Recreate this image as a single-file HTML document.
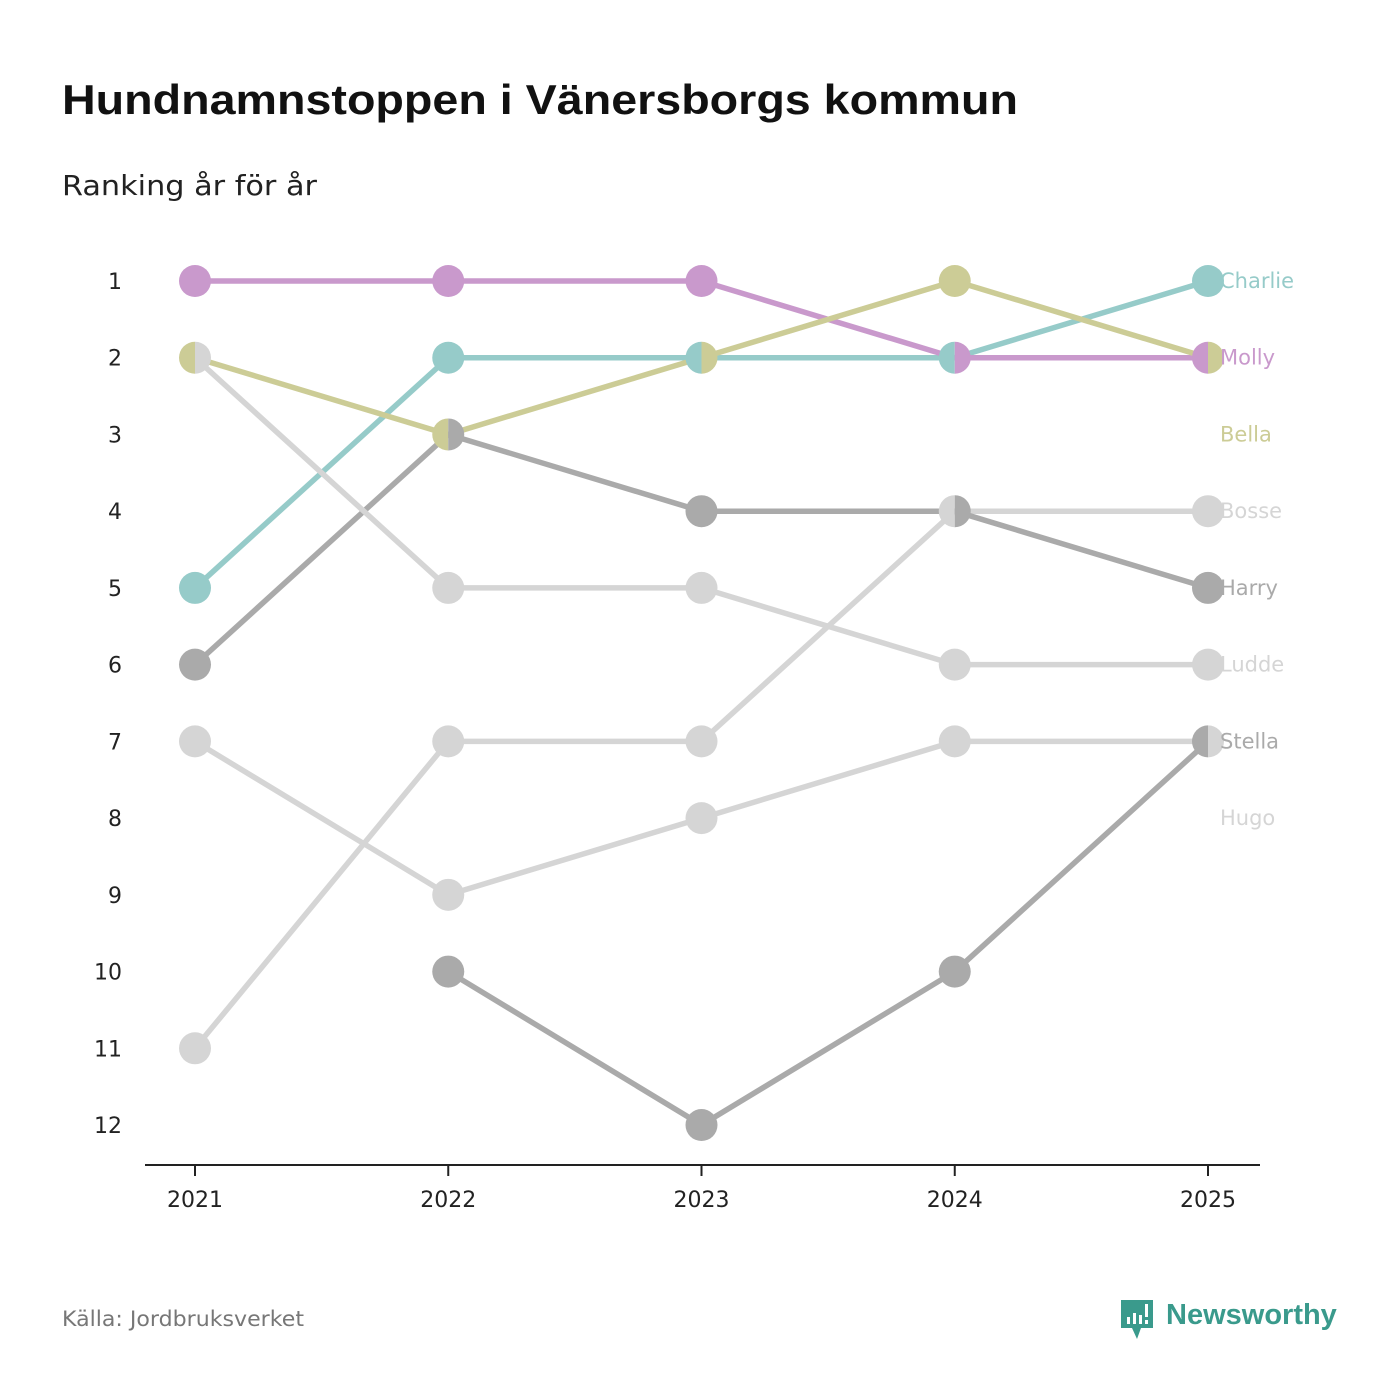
<!DOCTYPE html>
<html><head><meta charset="utf-8">
<style>
body{margin:0;background:#fff;font-family:"Liberation Sans","DejaVu Sans",sans-serif;}
#wrap{position:relative;width:1400px;height:1400px;overflow:hidden;}
</style></head>
<body>
<div id="wrap">
<svg id="svg" width="1400" height="1400" xmlns="http://www.w3.org/2000/svg">
<text x="62" y="114" font-size="42" font-weight="bold" fill="#111" font-family="Liberation Sans, sans-serif" textLength="956" lengthAdjust="spacingAndGlyphs">Hundnamnstoppen i Vänersborgs kommun</text>
<text x="62" y="195" font-size="28" fill="#222" font-family="DejaVu Sans, sans-serif" textLength="255" lengthAdjust="spacingAndGlyphs">Ranking år för år</text>
<text x="62" y="1326" font-size="21" fill="#777" font-family="DejaVu Sans, sans-serif" textLength="242" lengthAdjust="spacingAndGlyphs">Källa: Jordbruksverket</text>
<g>
<path d="M1121 1300 h32 v28 h-12 l-4 11 l-5 -11 h-11 z" fill="#3a9a8c"/>
<rect x="1127" y="1317" width="3" height="7" fill="#fff"/><rect x="1133" y="1313" width="3" height="11" fill="#fff"/><rect x="1139" y="1315" width="3" height="9" fill="#fff"/><rect x="1145" y="1304" width="3" height="13" fill="#fff"/><rect x="1145" y="1320" width="3" height="4" fill="#fff"/>
<text x="1166" y="1324" font-size="29" font-weight="bold" fill="#3a9a8c" font-family="Liberation Sans, sans-serif">Newsworthy</text>
</g>
<g id="axes"></g>
<g id="lines"></g>
<g id="dots"></g>
<g id="labels"></g>
</svg>
</div>
<script>
const years = [2021, 2022, 2023, 2024, 2025];
const rankTicks = [1,2,3,4,5,6,7,8,9,10,11,12];
const names = ["Charlie","Molly","Bella","Bosse","Harry","Ludde","Stella","Hugo"];
const colors = ["#96cbc9","#c999cc","#cccc96","#d5d5d5","#aaaaaa","#d5d5d5","#aaaaaa","#d5d5d5"];
const rankCharlie = [5,2,2,2,1];
const rankMolly = [1,1,1,2,2];
const rankBella = [2,3,2,1,2];
const rankBosse = [11,7,7,4,4];
const rankHarry = [6,3,4,4,5];
const rankLudde = [2,5,5,6,6];
const rankStella = [null,10,12,10,7];
const rankHugo = [7,9,8,7,7];
const series = [rankCharlie,rankMolly,rankBella,rankBosse,rankHarry,rankLudde,rankStella,rankHugo];

const NS="http://www.w3.org/2000/svg";
const x = i => 195 + i*253.25;
const y = r => 281 + (r-1)*76.73;
function mk(tag, attrs, parent){const e=document.createElementNS(NS,tag);for(const k in attrs)e.setAttribute(k,attrs[k]);parent.appendChild(e);return e;}
const axes=document.getElementById('axes'),lines=document.getElementById('lines'),dots=document.getElementById('dots'),labels=document.getElementById('labels');

let ax=mk('line',{x1:145,x2:1260,y1:1165,y2:1165,stroke:'#222','stroke-width':2},axes);


years.forEach((yr,i)=>{
  let t=mk('line',{x1:x(i),x2:x(i),y1:1165,y2:1176,stroke:'#222','stroke-width':2},axes);
  
  
  let l=mk('text',{x:x(i),y:1207,'text-anchor':'middle','font-size':22,fill:'#222','font-family':'DejaVu Sans, sans-serif'},axes);
  l.textContent=yr;
  
  
});
rankTicks.forEach(r=>{
  let l=mk('text',{x:122,y:y(r)+8,'text-anchor':'end','font-size':22,fill:'#222','font-family':'DejaVu Sans, sans-serif'},axes);
  l.textContent=r;
  
  
});

series.forEach((s,si)=>{
  let pts=[];s.forEach((r,i)=>{if(r!=null)pts.push(x(i)+','+y(r));});
  let p=mk('polyline',{points:pts.join(' '),fill:'none',stroke:colors[si],'stroke-width':5.5,'stroke-linejoin':'round'},lines);
  
  
});

const R=16;
years.forEach((yr,i)=>{
  const groups={};
  series.forEach((s,si)=>{if(s[i]!=null){(groups[s[i]]=groups[s[i]]||[]).push(si);}});
  for(const r in groups){
    const g=groups[r],cx=x(i),cy=y(+r);
    if(g.length===1){
      let c=mk('circle',{cx:cx,cy:cy,r:R,fill:colors[g[0]]},dots);
      
      
    } else {
      let a=mk('path',{d:`M${cx},${cy-R} A${R},${R} 0 0 0 ${cx},${cy+R} Z`,fill:colors[g[0]]},dots);
      
      
      let b=mk('path',{d:`M${cx},${cy-R} A${R},${R} 0 0 1 ${cx},${cy+R} Z`,fill:colors[g[1]]},dots);
      
      
    }
  }
});

names.forEach((n,si)=>{
  let l=mk('text',{x:1220,y:y(si+1)+7,'font-size':21,fill:colors[si],'font-family':'DejaVu Sans, sans-serif'},labels);
  l.textContent=n;
  
  
});
</script>
</body></html>
